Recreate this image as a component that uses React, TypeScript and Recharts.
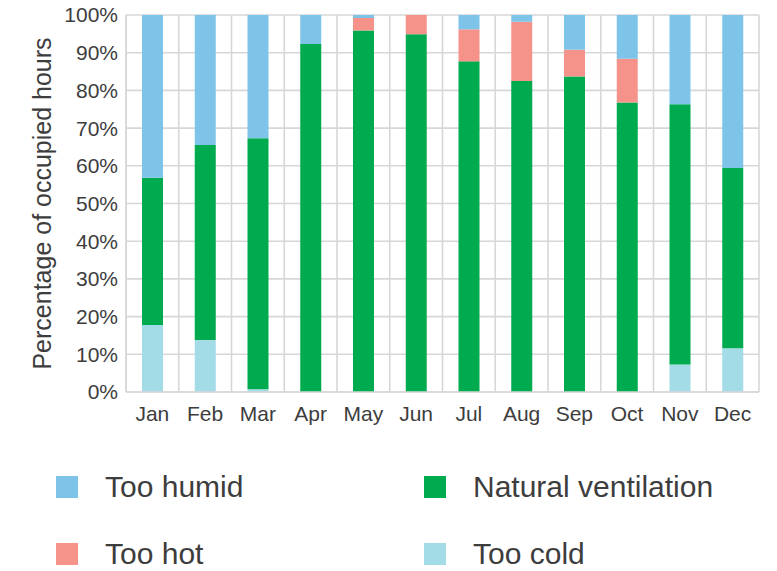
import { BarChart, Bar, XAxis, YAxis, CartesianGrid, Label } from "recharts";

const MONTHS = ["Jan", "Feb", "Mar", "Apr", "May", "Jun", "Jul", "Aug", "Sep", "Oct", "Nov", "Dec"];
const TOO_COLD = [17.8, 13.8, 0.7, 0, 0, 0, 0, 0, 0, 0, 7.3, 11.6];
const NATURAL = [39.0, 51.7, 66.6, 92.3, 95.9, 94.9, 87.7, 82.5, 83.7, 76.8, 69.0, 47.8];
const TOO_HOT = [0, 0, 0, 0, 3.3, 5.1, 8.5, 15.7, 7.1, 11.6, 0, 0];
const TOO_HUMID = [43.2, 34.5, 32.7, 7.7, 0.8, 0, 3.8, 1.8, 9.2, 11.6, 23.7, 40.6];
const Y_TICKS = [0, 10, 20, 30, 40, 50, 60, 70, 80, 90, 100];

// bottom to top in the stack
const SERIES = [
  { key: "cold", label: "Too cold", color: "#a3dbe7" },
  { key: "natural", label: "Natural ventilation", color: "#00aa4e" },
  { key: "hot", label: "Too hot", color: "#f5938b" },
  { key: "humid", label: "Too humid", color: "#7ec3e8" },
];

// legend reading order: row by row, two columns
const LEGEND_ORDER = ["humid", "natural", "hot", "cold"];

const FONT = "'Liberation Sans', Arial, sans-serif";
const TEXT = "#3d3d3d";
const GRID = "#d7d7d7";

export default function App() {
  const data = MONTHS.map((m, i) => ({
    month: m,
    cold: TOO_COLD[i],
    natural: NATURAL[i],
    hot: TOO_HOT[i],
    humid: TOO_HUMID[i],
  }));

  return (
    <div
      style={{
        position: "absolute",
        left: 0,
        top: 0,
        width: 777,
        height: 571,
        background: "#fff",
        fontFamily: FONT,
      }}
    >
      <BarChart
        width={777}
        height={440}
        data={data}
        margin={{ top: 15, right: 18, bottom: 0, left: 0 }}
        barSize={21}
      >
        <CartesianGrid
          stroke={GRID}
          strokeWidth={1.6}
          verticalCoordinatesGenerator={({ offset }: any) =>
            MONTHS.map((_, i) => offset.left + (i * offset.width) / MONTHS.length).concat(
              offset.left + offset.width
            )
          }
        />
        <XAxis
          dataKey="month"
          height={48}
          tickLine={false}
          axisLine={{ stroke: GRID, strokeWidth: 1.6 }}
          tickMargin={8}
          tick={{ fill: TEXT, fontSize: 21, fontFamily: FONT }}
          interval={0}
        />
        <YAxis
          width={126}
          domain={[0, 100]}
          ticks={Y_TICKS}
          tickFormatter={(v) => `${v}%`}
          tickLine={false}
          axisLine={{ stroke: GRID, strokeWidth: 1.6 }}
          tick={{ fill: TEXT, fontSize: 21, fontFamily: FONT }}
        >
          <Label
            content={({ viewBox }: any) => {
              const cy = viewBox.y + viewBox.height / 2;
              return (
                <text
                  x={42}
                  y={cy}
                  transform={`rotate(-90 42 ${cy})`}
                  textAnchor="middle"
                  dominantBaseline="central"
                  fill={TEXT}
                  fontSize={25}
                  fontFamily={FONT}
                >
                  Percentage of occupied hours
                </text>
              );
            }}
          />
        </YAxis>
        {SERIES.map((s) => (
          <Bar
            key={s.key}
            dataKey={s.key}
            stackId="a"
            fill={s.color}
            isAnimationActive={false}
          />
        ))}
      </BarChart>

      {/* Legend */}
      {LEGEND_ORDER.map((k, i) => {
        const s = SERIES.find((x) => x.key === k)!;
        const col = i % 2;
        const row = Math.floor(i / 2);
        return (
          <div
            key={k}
            style={{
              position: "absolute",
              left: col === 0 ? 56 : 424,
              top: 476 + row * 67,
              display: "flex",
              alignItems: "center",
              height: 22,
            }}
          >
            <div style={{ width: 22, height: 22, background: s.color }} />
            <span
              style={{
                marginLeft: 27,
                fontSize: 30,
                color: TEXT,
                lineHeight: "22px",
                whiteSpace: "nowrap",
              }}
            >
              {s.label}
            </span>
          </div>
        );
      })}
    </div>
  );
}
